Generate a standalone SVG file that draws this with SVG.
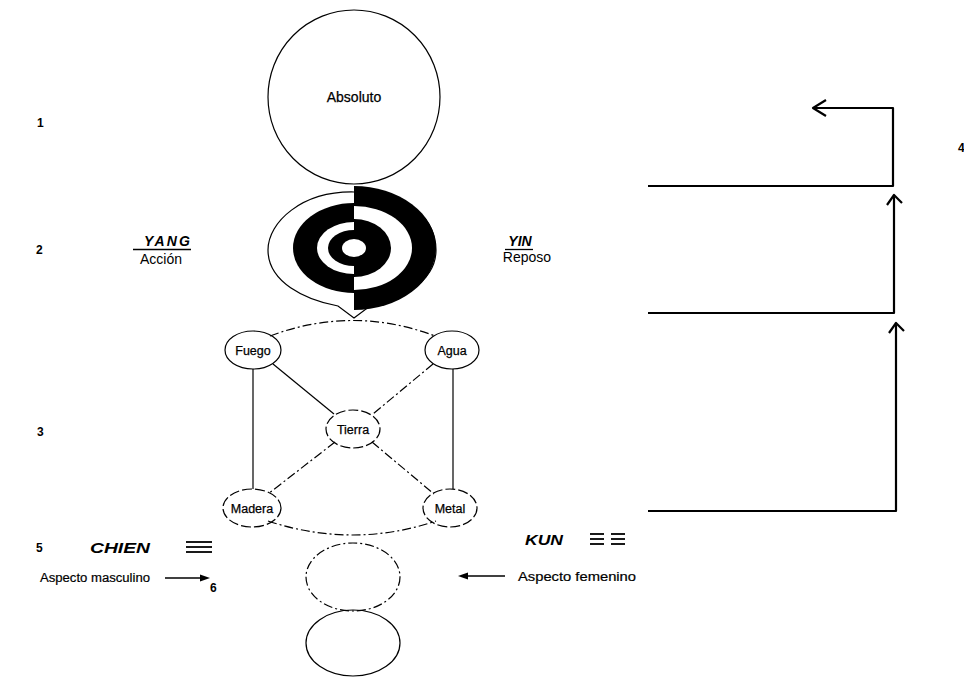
<svg xmlns="http://www.w3.org/2000/svg" width="964" height="678" viewBox="0 0 964 678">
<style>
  .t{font-family:"Liberation Sans",Arial,sans-serif;fill:#000}
  .num{font-size:12px;font-weight:bold}
  .lbl{font-size:12.5px;stroke:#000;stroke-width:0.2}
  .el{font-size:12.5px;stroke:#000;stroke-width:0.25}
  .bi{font-weight:bold;font-style:italic;font-size:14px}
  .thin{fill:none;stroke:#000;stroke-width:1.2}
  .dd{fill:none;stroke:#000;stroke-width:1.2;stroke-dasharray:9 3 2 3}
  .ds{fill:none;stroke:#000;stroke-width:1.2;stroke-dasharray:10 3}
  .conn{fill:none;stroke:#000;stroke-width:2.2;stroke-linejoin:round}
  .tri{stroke:#000;stroke-width:1.8}
</style>
<rect width="964" height="678" fill="#fff"/>

<g id="levels">
  <text class="t num" x="37" y="127">1</text>
  <text class="t num" x="36" y="254">2</text>
  <text class="t num" x="37" y="436">3</text>
  <text class="t num" x="958" y="152">4</text>
  <text class="t num" x="36" y="552">5</text>
  <text class="t num" x="210" y="592">6</text>
</g>

<g id="absoluto">
  <ellipse class="thin" cx="354" cy="97" rx="86" ry="87"/>
  <text class="t" x="354" y="102" font-size="14" text-anchor="middle" stroke="#000" stroke-width="0.25">Absoluto</text>
</g>

<g id="yinyang">
  <path class="thin" d="M354,192 C302,191 268,222 268,250 C268,282 305,300 338,306 L354,318 L370,306 C400,300 436,282 436,250 C436,220 410,193 354,192 Z"/>
  <path d="M354,186 A82,62 0 0 1 354,310 Z" fill="#000"/>
  <path d="M354,206 A58,42 0 0 1 354,290 Z" fill="#fff"/>
  <path d="M354,219 A37,29 0 0 1 354,277 Z" fill="#000"/>
  <path d="M354,203 A61,45 0 0 0 354,293 Z" fill="#000"/>
  <path d="M354,222 A37,26 0 0 0 354,274 Z" fill="#fff"/>
  <path d="M354,230 A26,18 0 0 0 354,266 Z" fill="#000"/>
  <ellipse cx="354" cy="248" rx="12" ry="9" fill="#fff"/>
</g>

<g id="yang">
  <text class="t bi" x="167" y="246" font-size="13" text-anchor="middle" textLength="46">YANG</text>
  <line x1="133" y1="249.5" x2="191" y2="249.5" stroke="#000" stroke-width="1.3"/>
  <text class="t" x="161" y="264" font-size="14" text-anchor="middle">Acción</text>
</g>

<g id="yin">
  <text class="t bi" x="520" y="246" font-size="13" text-anchor="middle">YIN</text>
  <line x1="505" y1="249.5" x2="533" y2="249.5" stroke="#000" stroke-width="1.3"/>
  <text class="t" x="527" y="262" font-size="14" text-anchor="middle">Reposo</text>
</g>

<g id="connectors">
  <path class="dd" d="M270,336 Q353,305 435,336"/>
  <path class="dd" d="M268,521 Q353,549 436,521"/>
  <line class="thin" x1="253" y1="369" x2="253" y2="489"/>
  <line class="thin" x1="453" y1="369" x2="453" y2="489"/>
  <line class="thin" x1="273" y1="364" x2="334" y2="414"/>
  <line class="dd" x1="433" y1="364" x2="373" y2="414"/>
  <line class="dd" x1="335" y1="442" x2="268" y2="494"/>
  <line class="dd" x1="372" y1="442" x2="434" y2="494"/>
  <path class="conn" d="M648,186 H893 V108 H813"/>
  <path class="conn" d="M826,100 L813,108 L826,116"/>
  <path class="conn" d="M648,313 H894 V197"/>
  <path class="conn" d="M887,205 L894,195 L902,203"/>
  <path class="conn" d="M648,511 H896 V325"/>
  <path class="conn" d="M889,333 L896,323 L904,331"/>
  <line x1="165" y1="578" x2="202" y2="578" stroke="#000" stroke-width="1.5"/>
  <path d="M210,578 L200,574.5 L200,581.5 Z" fill="#000"/>
  <line x1="466" y1="576" x2="505" y2="576" stroke="#000" stroke-width="1.5"/>
  <path d="M458,576 L468,572.5 L468,579.5 Z" fill="#000"/>
</g>

<g id="fuego">
  <ellipse class="thin" cx="253" cy="350" rx="28" ry="19"/>
  <text class="t el" x="253" y="355" text-anchor="middle">Fuego</text>
</g>
<g id="agua">
  <ellipse class="thin" cx="452" cy="350" rx="27" ry="19"/>
  <text class="t el" x="452" y="355" text-anchor="middle">Agua</text>
</g>
<g id="tierra">
  <ellipse class="ds" cx="353" cy="429" rx="27" ry="19"/>
  <text class="t el" x="353" y="434" text-anchor="middle">Tierra</text>
</g>
<g id="madera">
  <ellipse class="ds" cx="252" cy="508" rx="29" ry="19"/>
  <text class="t el" x="252" y="513" text-anchor="middle">Madera</text>
</g>
<g id="metal">
  <ellipse class="ds" cx="450" cy="508" rx="27" ry="19"/>
  <text class="t el" x="450" y="513" text-anchor="middle">Metal</text>
</g>

<g id="chien">
  <text class="t bi" x="90" y="553" font-size="15" textLength="60" lengthAdjust="spacingAndGlyphs">CHIEN</text>
  <line class="tri" x1="186" y1="542" x2="212" y2="542"/>
  <line class="tri" x1="186" y1="547" x2="212" y2="547"/>
  <line class="tri" x1="186" y1="552" x2="212" y2="552"/>
  <text class="t lbl" x="40" y="582" textLength="110" lengthAdjust="spacingAndGlyphs">Aspecto masculino</text>
</g>

<g id="kun">
  <text class="t bi" x="525" y="545" font-size="15" textLength="38" lengthAdjust="spacingAndGlyphs">KUN</text>
  <line class="tri" x1="590" y1="534" x2="604" y2="534"/>
  <line class="tri" x1="590" y1="539" x2="604" y2="539"/>
  <line class="tri" x1="590" y1="544" x2="604" y2="544"/>
  <line class="tri" x1="611" y1="534" x2="625" y2="534"/>
  <line class="tri" x1="611" y1="539" x2="625" y2="539"/>
  <line class="tri" x1="611" y1="544" x2="625" y2="544"/>
  <text class="t lbl" x="518" y="581" textLength="118" lengthAdjust="spacingAndGlyphs">Aspecto femenino</text>
</g>

<g id="circulo-punteado">
  <ellipse class="dd" cx="353" cy="577" rx="47" ry="34"/>
</g>
<g id="circulo-inferior">
  <ellipse class="thin" cx="353" cy="643" rx="47" ry="33"/>
</g>
</svg>
